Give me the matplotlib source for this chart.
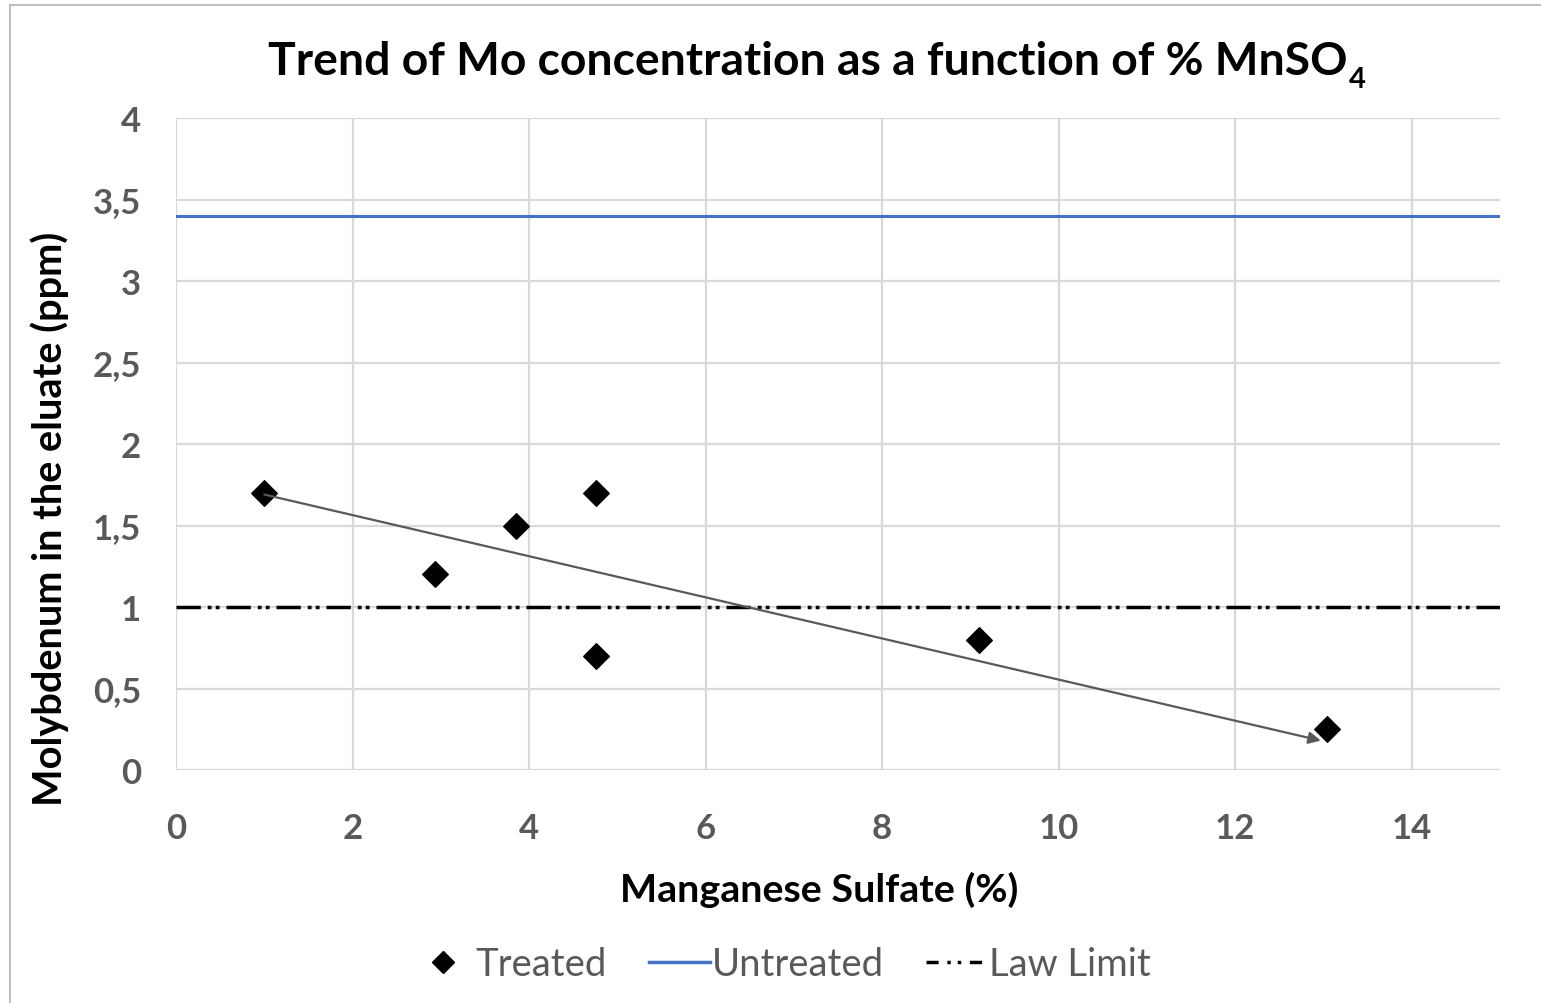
import matplotlib
matplotlib.use("Agg")
import matplotlib.pyplot as plt
from matplotlib.lines import Line2D
from matplotlib.ticker import FuncFormatter, MultipleLocator

# data
mnso4_pct = [1.0, 2.93, 3.85, 4.76, 4.76, 9.1, 13.04]
mo_treated = [1.7, 1.2, 1.5, 1.7, 0.7, 0.8, 0.25]
mo_untreated = 3.4
law_limit = 1.0
trend_start = (1.0, 1.69)
trend_end = (12.97, 0.18)

x_range = (0, 15)
y_range = (0, 4)

plt.rcParams["font.family"] = ["Lato", "DejaVu Sans"]

GRID = "#d9d9d9"
TICK = "#595959"
BLUE = "#4472c4"
LAW_DASH = (0, (7.0, 2.0, 1.1, 1.2, 1.1, 2.0))

fig = plt.figure(figsize=(15.41, 10.04), dpi=100)
ax = fig.add_axes([176 / 1541, 1 - 771 / 1004, (1500 - 176) / 1541, (771 - 119) / 1004])

ax.set_xlim(*x_range)
ax.set_ylim(*y_range)
ax.xaxis.set_major_locator(MultipleLocator(2))
ax.yaxis.set_major_locator(MultipleLocator(0.5))
ax.yaxis.set_major_formatter(FuncFormatter(lambda v, _: f"{v:g}".replace(".", ",")))
ax.grid(True, color=GRID, linewidth=1.6)
ax.set_axisbelow(True)
for s in ax.spines.values():
    s.set_visible(False)
ax.tick_params(length=0, labelsize=25, labelcolor=TICK)
ax.tick_params(axis="x", pad=30)
ax.tick_params(axis="y", pad=25)
ax.set_xticks(range(0, 15, 2))
for lab in ax.get_xticklabels() + ax.get_yticklabels():
    lab.set_fontweight("bold")

ax.axhline(mo_untreated, color=BLUE, linewidth=2.2, zorder=3)
ax.axhline(law_limit, color="black", linewidth=2.5, linestyle=LAW_DASH, zorder=3)
ax.scatter(mnso4_pct, mo_treated, marker="D", s=170, color="black", zorder=4)

ax.annotate("", xy=trend_end, xytext=trend_start,
            arrowprops=dict(arrowstyle="-|>", color="#595959", lw=1.6,
                            mutation_scale=18, shrinkA=0, shrinkB=0),
            zorder=5)

# title with a bold subscript drawn as its own text
title = fig.text(808 / 1541, 1 - 62 / 1004, "Trend of Mo concentration as a function of % MnSO",
                 ha="center", va="center", fontsize=33.3, fontweight="bold")
fig.canvas.draw()
tb = title.get_window_extent().transformed(fig.transFigure.inverted())
fig.text(tb.x1 + 1 / 1541, 1 - 88 / 1004, "4", ha="left", va="baseline",
         fontsize=21, fontweight="bold")

fig.text(819 / 1541, 1 - 890 / 1004, "Manganese Sulfate (%)",
         ha="center", va="center", fontsize=28.4, fontweight="bold")
fig.text(50 / 1541, 1 - 519 / 1004, "Molybdenum in the eluate (ppm)",
         ha="center", va="center", rotation=90, fontsize=28.6, fontweight="bold")

handles = [
    Line2D([], [], marker="D", color="black", linestyle="none", markersize=11),
    Line2D([], [], color=BLUE, linewidth=2.5),
    Line2D([], [], color="black", linewidth=2.5, linestyle=(0, (3.5, 2.5, 1, 2, 1, 2.5, 3.5))),
]
leg = fig.legend(handles, ["Treated", "Untreated", "Law Limit"], loc="center",
                 bbox_to_anchor=(782 / 1541, 1 - 965 / 1004), ncol=3, frameon=False,
                 fontsize=27.5, handlelength=1.6, handletextpad=0.05, columnspacing=1.1)
for t in leg.get_texts():
    t.set_color(TICK)

# outer chart border (only top and left visible in the source)
fig.add_artist(Line2D([10 / 1541, 1], [1 - 6 / 1004] * 2, color="#bfbfbf", lw=1.5,
                      transform=fig.transFigure))
fig.add_artist(Line2D([10 / 1541] * 2, [0, 1 - 6 / 1004], color="#bfbfbf", lw=1.5,
                      transform=fig.transFigure))

fig.savefig("out.png", dpi=100)
